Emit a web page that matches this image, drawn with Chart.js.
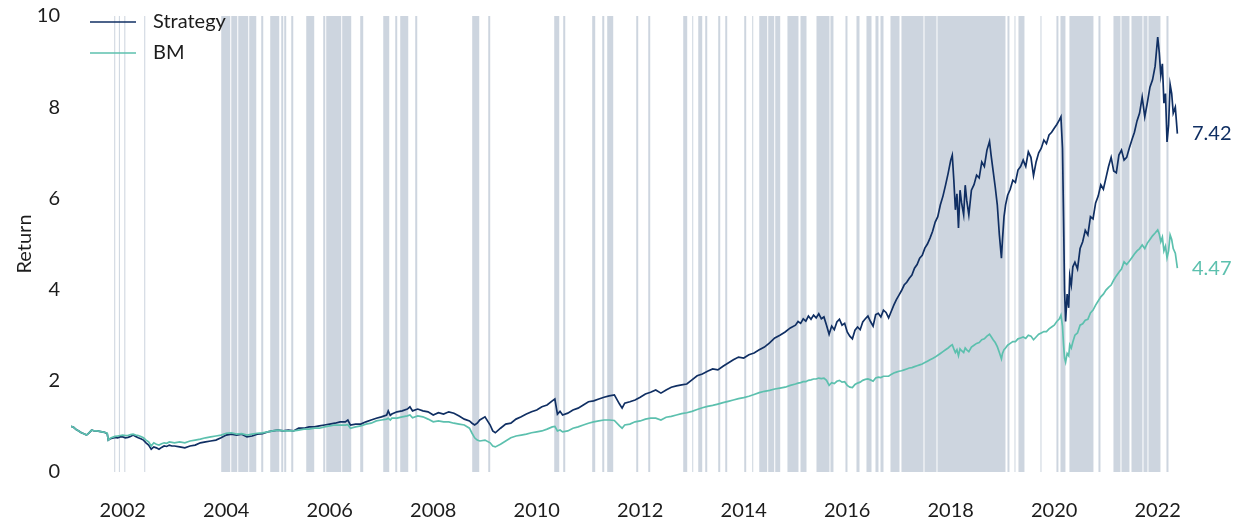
<!DOCTYPE html>
<html><head><meta charset="utf-8">
<script src="https://cdn.jsdelivr.net/npm/chart.js@4/dist/chart.umd.min.js"></script>
<style>html,body{margin:0;padding:0;background:#fff;overflow:hidden}</style>
</head><body>
<canvas id="c" width="1243" height="524"></canvas>
<script>
// ---- data (decimal years) ----
const dates = [
2001.00,2001.05,2001.10,2001.15,2001.20,2001.25,2001.30,2001.35,2001.40,2001.45,2001.50,2001.55,2001.60,2001.65,2001.70,2001.72,2001.76,2001.80,2001.85,2001.90,2001.95,
2002.00,2002.05,2002.10,2002.15,2002.20,2002.25,2002.30,2002.35,2002.40,2002.45,2002.50,2002.55,2002.60,2002.65,2002.70,2002.75,2002.80,2002.85,2002.90,2002.95,
2003.00,2003.10,2003.20,2003.30,2003.40,2003.50,2003.60,2003.70,2003.80,2003.90,
2004.00,2004.10,2004.20,2004.30,2004.40,2004.50,2004.60,2004.70,2004.80,2004.90,
2005.00,2005.10,2005.20,2005.30,2005.40,2005.50,2005.60,2005.70,2005.80,2005.90,
2006.00,2006.10,2006.20,2006.30,2006.35,2006.40,2006.50,2006.60,2006.70,2006.80,2006.90,
2007.00,2007.10,2007.13,2007.17,2007.20,2007.30,2007.40,2007.50,2007.55,2007.60,2007.70,2007.80,2007.90,
2008.00,2008.10,2008.20,2008.30,2008.40,2008.50,2008.60,2008.70,2008.75,2008.80,2008.85,2008.90,
2009.00,2009.10,2009.15,2009.20,2009.30,2009.40,2009.50,2009.60,2009.70,2009.80,2009.90,
2010.00,2010.10,2010.20,2010.30,2010.35,2010.40,2010.45,2010.50,2010.60,2010.70,2010.80,2010.90,
2011.00,2011.10,2011.20,2011.30,2011.40,2011.50,2011.60,2011.65,2011.70,2011.80,2011.90,
2012.00,2012.10,2012.20,2012.30,2012.40,2012.50,2012.60,2012.70,2012.80,2012.90,
2013.00,2013.10,2013.20,2013.30,2013.40,2013.50,2013.60,2013.70,2013.80,2013.90,
2014.00,2014.10,2014.20,2014.30,2014.40,2014.50,2014.60,2014.70,2014.80,2014.90,
2015.00,2015.05,2015.10,2015.15,2015.20,2015.25,2015.30,2015.35,2015.40,2015.45,2015.50,2015.55,2015.60,2015.65,2015.70,2015.75,2015.80,2015.85,2015.90,2015.95,
2016.00,2016.05,2016.10,2016.15,2016.20,2016.25,2016.30,2016.35,2016.40,2016.45,2016.50,2016.55,2016.60,2016.65,2016.70,2016.75,2016.80,2016.85,2016.90,2016.95,
2017.00,2017.05,2017.10,2017.15,2017.20,2017.25,2017.30,2017.35,2017.40,2017.45,2017.50,2017.55,2017.60,2017.65,2017.70,2017.75,2017.80,2017.85,2017.90,2017.95,
2018.00,2018.03,2018.06,2018.09,2018.12,2018.15,2018.18,2018.21,2018.25,2018.28,2018.31,2018.35,2018.40,2018.45,2018.50,2018.55,2018.60,2018.65,2018.70,2018.75,2018.78,2018.82,2018.86,2018.90,2018.94,2018.98,
2019.00,2019.03,2019.06,2019.10,2019.15,2019.20,2019.25,2019.30,2019.35,2019.40,2019.45,2019.50,2019.55,2019.60,2019.65,2019.70,2019.75,2019.80,2019.85,2019.90,2019.95,
2020.00,2020.05,2020.10,2020.13,2020.16,2020.18,2020.20,2020.22,2020.25,2020.28,2020.30,2020.33,2020.36,2020.40,2020.45,2020.50,2020.55,2020.60,2020.65,2020.70,2020.75,2020.80,2020.85,2020.90,2020.95,
2021.00,2021.05,2021.10,2021.15,2021.20,2021.25,2021.30,2021.35,2021.40,2021.45,2021.50,2021.55,2021.60,2021.65,2021.70,2021.75,2021.80,2021.85,2021.90,2021.95,
2022.00,2022.03,2022.06,2022.09,2022.12,2022.15,2022.18,2022.21,2022.24,2022.27,2022.30,2022.34,2022.38
];
const strategy = [
1.00,0.98,0.93,0.90,0.86,0.84,0.81,0.86,0.92,0.90,0.90,0.89,0.88,0.87,0.84,0.70,0.73,0.74,0.76,0.75,0.77,
0.77,0.75,0.76,0.78,0.81,0.78,0.75,0.73,0.70,0.64,0.59,0.50,0.55,0.53,0.50,0.54,0.57,0.56,0.59,0.57,
0.57,0.55,0.53,0.57,0.59,0.64,0.66,0.68,0.70,0.75,
0.81,0.83,0.81,0.83,0.77,0.79,0.83,0.84,0.88,0.90,
0.92,0.90,0.92,0.90,0.96,0.96,0.99,0.99,1.01,1.03,
1.05,1.07,1.10,1.10,1.14,1.03,1.05,1.05,1.10,1.14,1.18,
1.21,1.25,1.34,1.24,1.27,1.32,1.34,1.38,1.43,1.34,1.38,1.34,1.32,
1.25,1.30,1.27,1.32,1.29,1.23,1.16,1.12,1.07,1.03,1.07,1.14,
1.21,1.03,0.90,0.86,0.96,1.05,1.07,1.16,1.21,1.27,1.32,
1.36,1.43,1.47,1.56,1.60,1.27,1.33,1.25,1.29,1.36,1.40,1.47,
1.54,1.56,1.60,1.64,1.67,1.69,1.49,1.40,1.51,1.54,1.58,
1.64,1.71,1.75,1.80,1.73,1.80,1.86,1.89,1.91,1.93,
2.02,2.11,2.15,2.21,2.26,2.24,2.32,2.39,2.46,2.52,
2.50,2.57,2.61,2.68,2.74,2.83,2.94,3.00,3.07,3.16,
3.22,3.30,3.26,3.36,3.31,3.42,3.35,3.44,3.38,3.47,3.36,3.40,3.22,3.02,3.20,3.12,3.29,3.35,3.22,3.26,
3.07,2.98,2.92,3.11,3.18,3.12,3.29,3.36,3.42,3.30,3.20,3.45,3.48,3.40,3.55,3.50,3.38,3.52,3.66,3.78,
3.88,3.98,4.10,4.16,4.25,4.32,4.47,4.55,4.69,4.75,4.91,5.00,5.13,5.28,5.48,5.60,5.86,6.05,6.29,6.55,
6.84,6.95,6.40,5.75,6.10,5.35,6.18,5.90,5.64,6.29,5.95,5.64,6.18,6.30,6.51,6.45,6.80,6.70,7.06,7.25,6.95,6.60,6.25,5.86,5.20,4.69,
5.09,5.60,5.86,6.07,6.20,6.40,6.35,6.62,6.70,6.84,6.70,7.02,6.90,6.50,6.80,7.00,7.10,7.28,7.20,7.39,7.45,
7.54,7.62,7.72,7.79,7.10,5.60,3.99,3.30,3.90,3.60,4.30,4.10,4.50,4.60,4.45,4.90,5.05,5.30,5.20,5.60,5.55,5.90,6.05,6.30,6.20,
6.45,6.70,6.90,6.60,6.56,6.95,7.06,6.84,6.90,7.10,7.28,7.45,7.70,7.87,8.22,7.79,8.10,8.44,8.60,8.90,
9.54,9.20,8.70,8.95,8.09,8.30,7.24,7.60,8.50,8.30,7.87,8.00,7.42
];
const benchmark = [
1.00,0.98,0.93,0.90,0.86,0.84,0.81,0.86,0.92,0.90,0.90,0.89,0.88,0.87,0.85,0.70,0.74,0.76,0.78,0.79,0.80,
0.81,0.80,0.80,0.82,0.83,0.81,0.80,0.78,0.75,0.70,0.66,0.57,0.64,0.61,0.59,0.62,0.64,0.63,0.66,0.65,
0.64,0.66,0.64,0.68,0.70,0.72,0.75,0.77,0.79,0.81,
0.85,0.86,0.83,0.84,0.81,0.83,0.85,0.86,0.88,0.90,
0.92,0.90,0.90,0.90,0.92,0.94,0.94,0.96,0.96,0.99,
1.01,1.03,1.03,1.03,1.04,0.96,0.99,1.01,1.05,1.07,1.12,
1.14,1.16,1.18,1.14,1.18,1.18,1.21,1.23,1.25,1.19,1.23,1.21,1.16,
1.10,1.12,1.10,1.10,1.07,1.05,1.03,0.96,0.85,0.75,0.70,0.68,
0.70,0.64,0.57,0.55,0.61,0.68,0.75,0.79,0.81,0.83,0.86,
0.88,0.90,0.94,0.99,1.00,0.90,0.92,0.88,0.90,0.96,0.99,1.03,
1.07,1.10,1.12,1.14,1.14,1.13,1.01,0.96,1.03,1.05,1.10,
1.12,1.16,1.18,1.18,1.14,1.20,1.22,1.25,1.28,1.30,
1.33,1.37,1.41,1.44,1.46,1.49,1.52,1.55,1.58,1.61,
1.63,1.66,1.70,1.74,1.77,1.79,1.82,1.84,1.86,1.90,
1.93,1.95,1.96,1.98,1.98,2.01,2.02,2.04,2.04,2.06,2.05,2.06,2.01,1.90,1.96,1.94,1.99,2.01,1.97,1.98,
1.90,1.86,1.85,1.92,1.95,1.97,2.01,2.03,2.04,2.02,1.99,2.06,2.08,2.07,2.10,2.10,2.10,2.14,2.17,2.19,
2.21,2.22,2.24,2.26,2.28,2.29,2.31,2.33,2.35,2.37,2.40,2.43,2.46,2.49,2.52,2.56,2.60,2.64,2.68,2.72,
2.77,2.79,2.70,2.62,2.68,2.55,2.70,2.66,2.62,2.72,2.68,2.64,2.74,2.78,2.82,2.84,2.90,2.92,2.98,3.02,2.97,2.90,2.84,2.75,2.62,2.48,
2.60,2.68,2.72,2.78,2.82,2.86,2.86,2.92,2.94,2.96,2.93,3.00,2.98,2.90,2.96,3.02,3.05,3.08,3.08,3.14,3.18,
3.22,3.30,3.36,3.44,3.20,2.80,2.50,2.41,2.60,2.55,2.79,2.72,2.85,3.00,3.05,3.22,3.25,3.33,3.35,3.49,3.55,3.66,3.75,3.84,3.90,
3.99,4.05,4.10,4.21,4.30,4.38,4.45,4.61,4.55,4.62,4.70,4.78,4.85,4.90,4.98,4.90,5.02,5.10,5.18,5.24,
5.31,5.22,5.05,5.15,4.85,4.95,4.70,4.85,5.20,5.10,4.90,4.80,4.47
];
const seriesNames = ['Strategy', 'BM'];
const seriesColors = ['#102f63', '#5cc0ae'];
const yearTicks = [2002, 2004, 2006, 2008, 2010, 2012, 2014, 2016, 2018, 2020, 2022];
const valueTicks = [0, 2, 4, 6, 8, 10];
const yTitle = 'Return';
// shaded periods (start / end, decimal years)
const shadeStart = [2001.835,2001.925,2002.030,2002.415,2003.903,2004.097,2004.232,2004.444,2004.676,2004.850,2005.063,2005.121,2005.256,2005.546,2005.874,2005.932,2006.241,2006.589,2007.034,2007.266,2007.362,2007.652,2008.753,2009.063,2010.338,2010.512,2011.072,2011.266,2011.362,2011.923,2012.155,2012.831,2013.005,2013.121,2013.256,2013.507,2013.643,2014.010,2014.164,2014.300,2014.473,2014.609,2014.845,2015.097,2015.406,2015.676,2015.966,2016.179,2016.372,2016.546,2016.643,2016.836,2017.048,2017.493,2017.744,2019.097,2019.232,2019.309,2019.734,2020.043,2020.121,2020.294,2020.855,2021.145,2021.300,2021.493,2021.725,2021.821,2022.169];
const shadeEnd   = [2001.855,2001.945,2002.050,2002.435,2004.077,2004.213,2004.425,2004.580,2004.715,2005.024,2005.101,2005.159,2005.295,2005.700,2005.913,2006.222,2006.415,2006.647,2007.150,2007.304,2007.517,2007.691,2008.889,2009.101,2010.435,2010.551,2011.130,2011.305,2011.478,2011.961,2012.193,2012.908,2013.024,2013.198,2013.295,2013.546,2013.681,2014.048,2014.184,2014.454,2014.589,2014.705,2015.058,2015.213,2015.657,2015.734,2016.005,2016.237,2016.469,2016.604,2016.701,2017.010,2017.474,2017.725,2019.058,2019.135,2019.251,2019.425,2019.754,2020.081,2020.217,2020.758,2020.894,2021.280,2021.454,2021.705,2021.802,2022.053,2022.208];

// ---- rendering ----
const FONT = 'Lato, "Open Sans", "DejaVu Sans", sans-serif';
const TXT = '#1c1c1c';

const bandsPlugin = {
  id: 'bands',
  beforeDatasetsDraw(chart) {
    const {ctx, chartArea: a, scales: {x}} = chart;
    ctx.save();
    ctx.fillStyle = '#cdd5df';
    for (let i = 0; i < shadeStart.length; i++) {
      const x0 = x.getPixelForValue(shadeStart[i]);
      const x1 = x.getPixelForValue(shadeEnd[i]);
      ctx.fillRect(x0, a.top, Math.max(1, x1 - x0), a.bottom - a.top);
    }
    ctx.restore();
  }
};

const endLabelPlugin = {
  id: 'endLabels',
  afterDatasetsDraw(chart) {
    const {ctx, chartArea: a, scales: {y}} = chart;
    ctx.save();
    ctx.font = '20px ' + FONT;
    ctx.textBaseline = 'middle';
    ctx.textAlign = 'left';
    chart.data.datasets.forEach(ds => {
      const last = ds.data[ds.data.length - 1].y;
      ctx.fillStyle = ds.borderColor;
      ctx.fillText(last.toFixed(2), a.right + 11, y.getPixelForValue(last));
    });
    ctx.restore();
  }
};

const legendPlugin = {
  id: 'customLegend',
  afterDraw(chart) {
    const {ctx, chartArea: a} = chart;
    ctx.save();
    ctx.font = '20px ' + FONT;
    ctx.textBaseline = 'middle';
    chart.data.datasets.forEach((ds, i) => {
      const yy = a.top + 6 + i * 31;
      ctx.strokeStyle = ds.borderColor;
      ctx.lineWidth = 1.6;
      ctx.beginPath();
      ctx.moveTo(a.left + 19, yy);
      ctx.lineTo(a.left + 65, yy);
      ctx.stroke();
      ctx.fillStyle = TXT;
      ctx.fillText(ds.label, a.left + 82, yy);
    });
    ctx.restore();
  }
};

const mk = arr => dates.map((d, i) => ({x: d, y: arr[i]}));

new Chart(document.getElementById('c'), {
  type: 'line',
  data: {
    datasets: [
      {label: seriesNames[0], data: mk(strategy), borderColor: seriesColors[0], borderWidth: 1.7, pointRadius: 0, tension: 0, order: 1},
      {label: seriesNames[1], data: mk(benchmark), borderColor: seriesColors[1], borderWidth: 1.7, pointRadius: 0, tension: 0, order: 0}
    ]
  },
  options: {
    responsive: false,
    animation: false,
    devicePixelRatio: 1,
    layout: {padding: {top: 16, right: 62, bottom: 0, left: 0}},
    plugins: {legend: {display: false}, tooltip: {enabled: false}},
    scales: {
      x: {
        type: 'linear', min: 2001, max: 2022.45,
        afterBuildTicks: s => { s.ticks = yearTicks.map(v => ({value: v})); },
        afterFit: s => { s.height = 52; },
        grid: {display: false}, border: {display: false},
        ticks: {autoSkip: false, maxRotation: 0, padding: 19, color: TXT, font: {size: 20, family: FONT}, callback: v => String(v)}
      },
      y: {
        min: 0, max: 10,
        afterBuildTicks: s => { s.ticks = valueTicks.map(v => ({value: v})); },
        afterFit: s => { s.width = 71; },
        grid: {display: false}, border: {display: false},
        ticks: {padding: 3, color: TXT, font: {size: 20, family: FONT}, callback: v => String(v)},
        title: {display: true, text: yTitle, color: TXT, font: {size: 20, family: FONT}, padding: {top: 13, bottom: 0}}
      }
    }
  },
  plugins: [bandsPlugin, endLabelPlugin, legendPlugin]
});
</script>
</body></html>
